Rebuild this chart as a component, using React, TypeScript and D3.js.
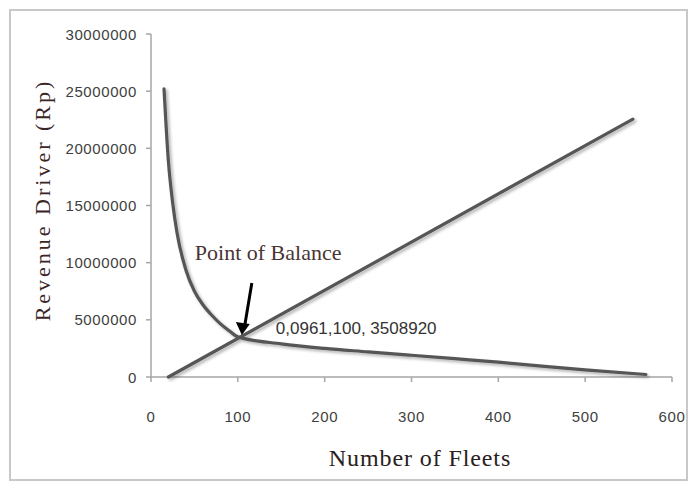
import React from "react";
import * as d3 from "d3";

const W = 691;
const H = 485;

const xTicks = [0, 100, 200, 300, 400, 500, 600];
const yTicks = [0, 5000000, 10000000, 15000000, 20000000, 25000000, 30000000];

// Straight line series
const fleetsLinear = [20, 555];
const revenueLinear = [0, 22550000];

// Decreasing curve series
const fleetsCurve = [15, 20, 25, 30, 40, 50, 60, 70, 80, 90, 100, 150, 200, 250, 300, 350, 400, 450, 500, 570];
const revenueCurve = [25200000, 18900000, 15200000, 12600000, 9400000, 7500000, 6300000, 5400000, 4650000, 4050000, 3508920, 2900000, 2500000, 2200000, 1900000, 1600000, 1300000, 950000, 620000, 220000];

const balanceFleets = 100;
const balanceRevenue = 3508920;
const balanceLabel = "0,0961,100, 3508920";
const annotationText = "Point of Balance";
const xTitle = "Number of Fleets";
const yTitle = "Revenue Driver (Rp)";

export default function App() {
  const x = d3.scaleLinear().domain([0, 600]).range([151, 672]);
  const y = d3.scaleLinear().domain([0, 30000000]).range([377, 34]);

  const line = d3
    .line<[number, number]>()
    .x((d) => x(d[0]))
    .y((d) => y(d[1]));
  const smooth = d3
    .line<[number, number]>()
    .x((d) => x(d[0]))
    .y((d) => y(d[1]))
    .curve(d3.curveMonotoneX);

  const linPts: [number, number][] = fleetsLinear.map((f, i) => [f, revenueLinear[i]]);
  const curvePts: [number, number][] = fleetsCurve.map((f, i) => [f, revenueCurve[i]]);

  const px = x(balanceFleets);
  const py = y(balanceRevenue);

  const axisColor = "#a6a6a6";
  const tickFont = "'Liberation Sans', Arial, sans-serif";
  const serif = "'Liberation Serif', 'Times New Roman', serif";

  return (
    <svg width={W} height={H} style={{ position: "absolute", left: 0, top: 0, background: "#fff" }}>
      <defs>
        <filter id="shadow" x="-10%" y="-10%" width="120%" height="120%">
          <feDropShadow dx="2" dy="2" stdDeviation="1.5" floodColor="#000" floodOpacity="0.3" />
        </filter>
      </defs>
      <rect x={0} y={0} width={W} height={H} fill="#fff" />
      <rect x={10} y={10} width={677} height={470} fill="none" stroke="#c8c8c8" strokeWidth={2} />

      {/* Y axis */}
      <line x1={x(0)} x2={x(0)} y1={y(30000000)} y2={y(0)} stroke={axisColor} strokeWidth={1.5} />
      {yTicks.map((t) => (
        <g key={"y" + t}>
          <line x1={x(0) - 5} x2={x(0)} y1={y(t)} y2={y(t)} stroke={axisColor} strokeWidth={1.5} />
          <text
            x={137}
            y={y(t)}
            textAnchor="end"
            dominantBaseline="central"
            fontFamily={tickFont}
            fontSize={15}
            letterSpacing={0.6}
            fill="#404040"
          >
            {t}
          </text>
        </g>
      ))}

      {/* X axis */}
      <line x1={x(0)} x2={x(600)} y1={y(0)} y2={y(0)} stroke={axisColor} strokeWidth={1.5} />
      {xTicks.map((t) => (
        <g key={"x" + t}>
          <line x1={x(t)} x2={x(t)} y1={y(0)} y2={y(0) + 5} stroke={axisColor} strokeWidth={1.5} />
          <text
            x={x(t)}
            y={416}
            textAnchor="middle"
            dominantBaseline="central"
            fontFamily={tickFont}
            fontSize={15}
            letterSpacing={0.6}
            fill="#404040"
          >
            {t}
          </text>
        </g>
      ))}

      {/* Series */}
      <g filter="url(#shadow)">
        <path d={line(linPts) || ""} fill="none" stroke="#565656" strokeWidth={3.2} strokeLinecap="round" />
        <path d={smooth(curvePts) || ""} fill="none" stroke="#565656" strokeWidth={3.2} strokeLinecap="round" />
      </g>

      {/* Annotation */}
      <text x={px - 43} y={py - 77} fontFamily={serif} fontSize={22} fill="#4a3434">
        {annotationText}
      </text>
      <line x1={px + 14} y1={py - 54} x2={px + 7} y2={py - 12} stroke="#000" strokeWidth={3} />
      <polygon
        points={`${px + 4},${py - 2} ${px - 2},${py - 15} ${px + 12},${py - 13}`}
        fill="#000"
      />
      <text x={px + 38} y={py - 3} fontFamily={tickFont} fontSize={17} fill="#333">
        {balanceLabel}
      </text>

      {/* Axis titles */}
      <text
        x={420}
        y={458}
        textAnchor="middle"
        dominantBaseline="central"
        fontFamily={serif}
        fontSize={24}
        letterSpacing={0.9}
        fill="#2a2020"
      >
        {xTitle}
      </text>
      <text
        transform={`translate(42,200) rotate(-90)`}
        textAnchor="middle"
        dominantBaseline="central"
        fontFamily={serif}
        fontSize={22}
        letterSpacing={3}
        fill="#3a2626"
      >
        {yTitle}
      </text>
    </svg>
  );
}
